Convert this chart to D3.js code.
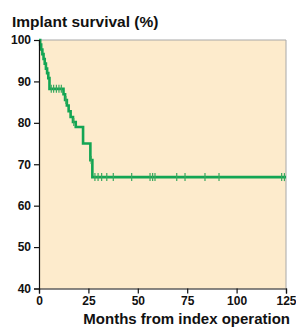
<!DOCTYPE html>
<html><head><meta charset="utf-8">
<script src="https://cdn.jsdelivr.net/npm/d3@7"></script>
<style>body{margin:0;background:#fff}svg{display:block}text{font-family:"Liberation Sans",Arial,sans-serif;fill:#111}</style>
</head><body>
<svg id="c" width="296" height="327"></svg>
<script>
// Kaplan-Meier steps: [month, survival after event]
const stepMonths = [0, 0.6, 1.1, 1.7, 2.3, 2.9, 3.5, 4.1, 4.7, 5.3, 12.4, 13.2, 14.1, 15.0, 16.0, 17.2, 18.6, 22.3, 26.0, 27.0, 125];
const stepValues = [100, 98.9, 97.7, 96.6, 95.4, 94.3, 93.1, 92.0, 90.8, 88.2, 86.9, 85.5, 84.2, 82.8, 81.4, 80.2, 79.0, 75.0, 71.0, 66.9, 66.9];
const censorMonths = [6.2, 7.4, 8.8, 10.1, 11.3, 13.6, 17.6, 26.4, 28.3, 29.9, 31.7, 34.3, 37.6, 46.9, 56.2, 57.5, 58.7, 69.7, 73.9, 84.0, 91.1, 122.8, 124.2];
const xTicks = [0, 25, 50, 75, 100, 125];
const yTicks = [40, 50, 60, 70, 80, 90, 100];
const yTitle = "Implant survival (%)";
const xTitle = "Months from index operation";

const svg = d3.select("#c");
const x = d3.scaleLinear().domain([0, 125]).range([39, 286]);
const y = d3.scaleLinear().domain([40, 100]).range([288.5, 40]);

svg.append("rect").attr("x", x(0)).attr("y", y(100)).attr("width", x(125) - x(0)).attr("height", y(40) - y(100)).attr("fill", "#fdebcc");
svg.append("path").attr("d", `M${x(0)},${y(100)}H${x(125)}V${y(40)}`).attr("fill", "none").attr("stroke", "#a8a8a8").attr("stroke-width", 1);

const pts = stepMonths.map((m, i) => ({m, v: stepValues[i]}));
const line = d3.line().x(d => x(d.m)).y(d => y(d.v)).curve(d3.curveStepAfter);
svg.append("path").datum(pts).attr("d", line).attr("fill", "none").attr("stroke", "#13a553").attr("stroke-width", 2.6).attr("stroke-linejoin", "miter");

function survAt(m) { let v = 100; for (let i = 0; i < stepMonths.length; i++) if (stepMonths[i] <= m) v = stepValues[i]; return v; }
svg.append("g").selectAll("line").data(censorMonths).join("line")
  .attr("x1", d => x(d)).attr("x2", d => x(d))
  .attr("y1", d => y(survAt(d)) - 4).attr("y2", d => y(survAt(d)) + 4)
  .attr("stroke", "#3aa85e").attr("stroke-width", 1.2);

const xa = svg.append("g").attr("transform", `translate(0,${y(40)})`)
  .call(d3.axisBottom(x).tickValues(xTicks).tickSize(5).tickPadding(3));
const ya = svg.append("g").attr("transform", `translate(${x(0)},0)`)
  .call(d3.axisLeft(y).tickValues(yTicks).tickSize(5).tickPadding(3));
[xa, ya].forEach(a => {
  a.select(".domain").attr("stroke", "#111").attr("stroke-width", 1.2);
  a.selectAll(".tick line").attr("stroke", "#111").attr("stroke-width", 1.2);
  a.selectAll("text").attr("font-size", 12).attr("font-weight", "bold").attr("fill", "#111").style("font-family", '"Liberation Sans",Arial,sans-serif');
});

svg.append("text").attr("x", 12).attr("y", 27).attr("font-size", 15.5).attr("font-weight", "bold").attr("fill", "#1a1a1a").text(yTitle);
svg.append("text").attr("x", 290).attr("y", 324).attr("text-anchor", "end").attr("font-size", 15).attr("font-weight", "bold").attr("fill", "#1a1a1a").text(xTitle);
</script>
</body></html>
